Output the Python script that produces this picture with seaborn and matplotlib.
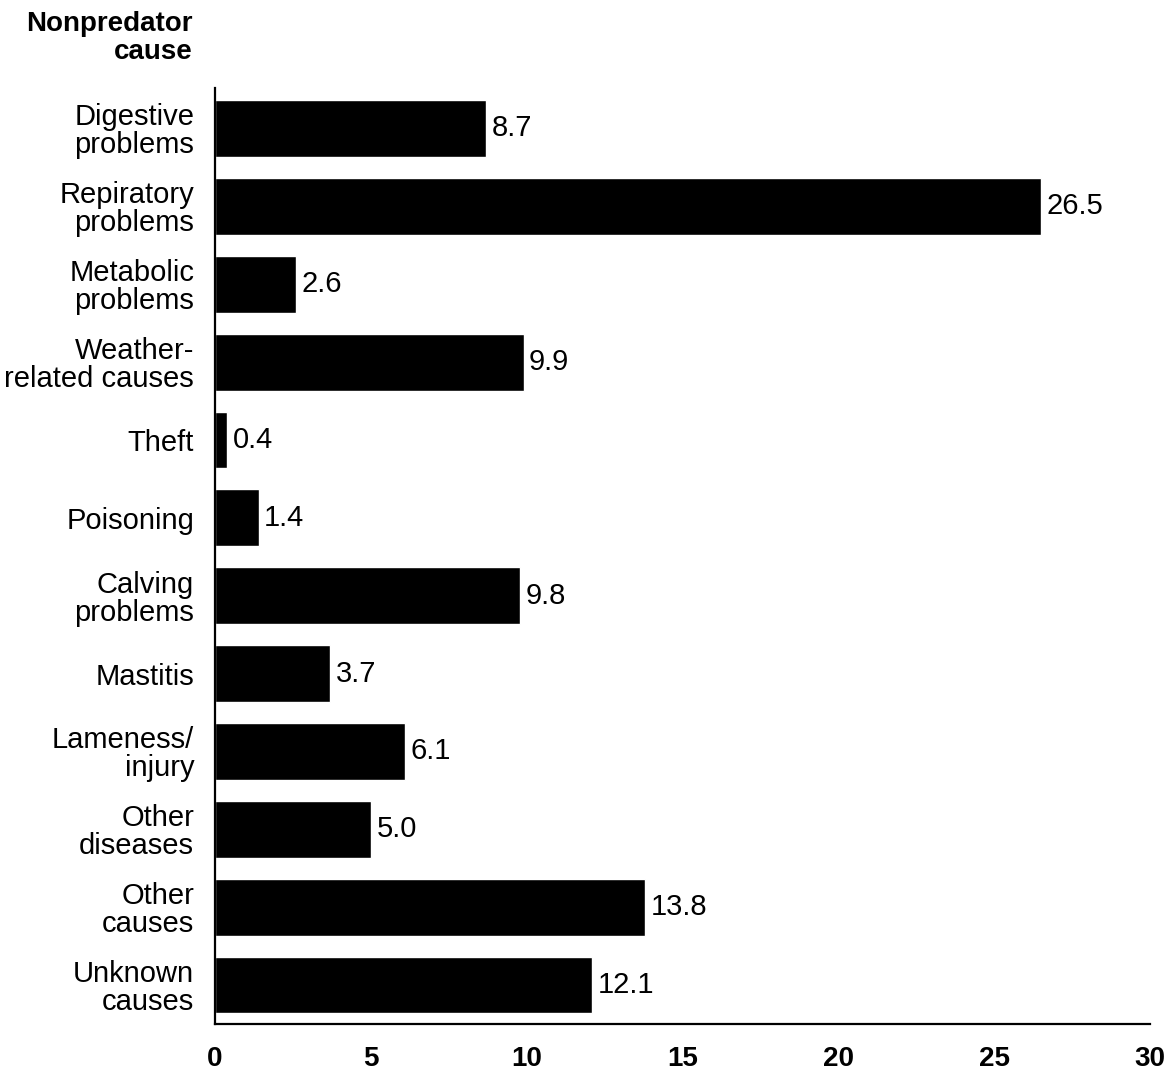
import matplotlib
matplotlib.use("Agg")
import matplotlib.pyplot as plt
import seaborn as sns
import pandas as pd

causes = [
    "Digestive\nproblems",
    "Repiratory\nproblems",
    "Metabolic\nproblems",
    "Weather-\nrelated causes",
    "Theft",
    "Poisoning",
    "Calving\nproblems",
    "Mastitis",
    "Lameness/\ninjury",
    "Other\ndiseases",
    "Other\ncauses",
    "Unknown\ncauses",
]
percent = [8.7, 26.5, 2.6, 9.9, 0.4, 1.4, 9.8, 3.7, 6.1, 5.0, 13.8, 12.1]
x_ticks = [0, 5, 10, 15, 20, 25, 30]

df = pd.DataFrame({"cause": causes, "percent": percent})

sns.set_style("white")
plt.rcParams["font.family"] = ["Liberation Sans", "DejaVu Sans"]
plt.rcParams["text.color"] = "black"
plt.rcParams["xtick.color"] = "black"
plt.rcParams["ytick.color"] = "black"

fig = plt.figure(figsize=(11.72, 10.78), dpi=100)
ax = fig.add_axes([215 / 1172, 1 - 1024 / 1078, (1150 - 215) / 1172, (1024 - 88) / 1078])

sns.barplot(data=df, x="percent", y="cause", orient="h", color="black",
            width=0.73, saturation=1, ax=ax)

for c in ax.containers:
    ax.bar_label(c, labels=[f"{v:.1f}" for v in percent], padding=4,
                 fontsize=21, color="black")

ax.set_xlim(0, 30)
ax.set_ylim(11.5, -0.52)
ax.set_xticks(x_ticks)
ax.set_xticklabels([str(t) for t in x_ticks], fontsize=20, fontweight="bold",
                   color="black")
ax.tick_params(axis="x", length=0, pad=16)
ax.tick_params(axis="y", length=0, pad=15)
for lbl in ax.get_yticklabels():
    lbl.set_fontsize(21)
    lbl.set_linespacing(1.0)
    lbl.set_color("black")
ax.set_xlabel("")
ax.set_ylabel("")

for side in ["top", "right"]:
    ax.spines[side].set_visible(False)
for side in ["left", "bottom"]:
    ax.spines[side].set_color("black")
    ax.spines[side].set_linewidth(1.6)

fig.text(193 / 1172, 1 - 11 / 1078, "Nonpredator\ncause", ha="right", va="top",
         fontsize=20, fontweight="bold", linespacing=1.08, color="black")

fig.savefig("out.png", dpi=100, facecolor="white")
